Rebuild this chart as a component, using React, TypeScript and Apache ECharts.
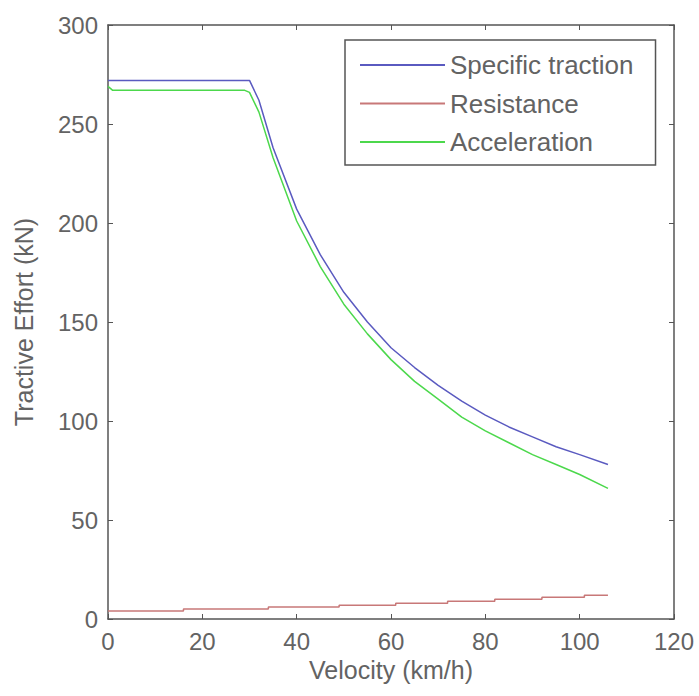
import React, { useEffect, useRef } from "react";
import * as echarts from "echarts";

const xTicks = [0, 20, 40, 60, 80, 100, 120];
const yTicks = [0, 50, 100, 150, 200, 250, 300];

const tractionV = [0, 30, 32, 35, 40, 45, 50, 55, 60, 65, 70, 75, 80, 85, 90, 95, 100, 106];
const tractionF = [272, 272, 262, 238, 207, 184, 165, 150, 137, 127, 118, 110, 103, 97, 92, 87, 83, 78];

const accelV = [0, 1, 29, 30, 32, 35, 40, 45, 50, 55, 60, 65, 70, 75, 80, 85, 90, 95, 100, 106];
const accelF = [269, 267, 267, 266, 256, 233, 201, 178, 159, 144, 131, 120, 111, 102, 95, 89, 83, 78, 73, 66];

const resistV = [0, 16, 34, 49, 61, 72, 82, 92, 101, 106];
const resistF = [4, 5, 6, 7, 8, 9, 10, 11, 12, 12];

const seriesNames = ["Specific traction", "Resistance", "Acceleration"];
const seriesColors = ["#5a5ac0", "#c87878", "#4cd84c"];

const pairs = (xs: number[], ys: number[]) => xs.map((x, i) => [x, ys[i]]);

export default function App() {
  const ref = useRef<HTMLDivElement>(null);
  useEffect(() => {
    const chart = echarts.init(ref.current!, null, { renderer: "svg" });
    const font = "'Liberation Sans', Arial, sans-serif";
    const textColor = "#636363";
    const axisCommon = {
      type: "value" as const,
      axisLine: { show: true, onZero: false, lineStyle: { color: "#555", width: 1.5 } },
      axisTick: { show: true, inside: true, length: 5, lineStyle: { color: "#555" } },
      splitLine: { show: false },
    };
    chart.setOption({
      animation: false,
      backgroundColor: "#ffffff",
      grid: { left: 108, top: 25, right: 25, bottom: 77 },
      legend: {
        data: seriesNames.map((n, i) => ({ name: n, itemStyle: { color: seriesColors[i] } })),
        orient: "vertical",
        left: 345,
        top: 40,
        icon: "rect",
        itemWidth: 85,
        itemHeight: 2,
        itemGap: 10.5,
        padding: [11, 22, 9, 15],
        borderColor: "#555",
        borderWidth: 1.5,
        backgroundColor: "#fff",
        textStyle: { fontFamily: font, fontSize: 26, color: textColor, lineHeight: 28 },
      },
      xAxis: [
        {
          ...axisCommon,
          min: 0,
          max: 120,
          interval: 20,
          name: "Velocity (km/h)",
          nameLocation: "middle",
          nameGap: 38,
          nameTextStyle: { fontFamily: font, fontSize: 25, color: textColor },
          axisLabel: { fontFamily: font, fontSize: 24, color: textColor, margin: 10 },
        },
        {
          ...axisCommon,
          position: "top",
          min: 0,
          max: 120,
          interval: 20,
          axisLabel: { show: false },
        },
      ],
      yAxis: [
        {
          ...axisCommon,
          min: 0,
          max: 300,
          interval: 50,
          name: "Tractive Effort (kN)",
          nameLocation: "middle",
          nameGap: 72,
          nameTextStyle: { fontFamily: font, fontSize: 25, color: textColor },
          axisLabel: { fontFamily: font, fontSize: 24, color: textColor, margin: 10 },
        },
        {
          ...axisCommon,
          position: "right",
          min: 0,
          max: 300,
          interval: 50,
          axisLabel: { show: false },
        },
      ],
      series: [
        {
          name: seriesNames[0],
          type: "line",
          data: pairs(tractionV, tractionF),
          showSymbol: false,
          lineStyle: { color: seriesColors[0], width: 1.5 },
          itemStyle: { color: seriesColors[0] },
        },
        {
          name: seriesNames[1],
          type: "line",
          step: "end",
          data: pairs(resistV, resistF),
          showSymbol: false,
          lineStyle: { color: seriesColors[1], width: 1.5 },
          itemStyle: { color: seriesColors[1] },
        },
        {
          name: seriesNames[2],
          type: "line",
          data: pairs(accelV, accelF),
          showSymbol: false,
          lineStyle: { color: seriesColors[2], width: 1.5 },
          itemStyle: { color: seriesColors[2] },
        },
      ],
    });
    return () => chart.dispose();
  }, []);
  return <div ref={ref} style={{ width: 699, height: 696, position: "absolute", left: 0, top: 0 }} />;
}
